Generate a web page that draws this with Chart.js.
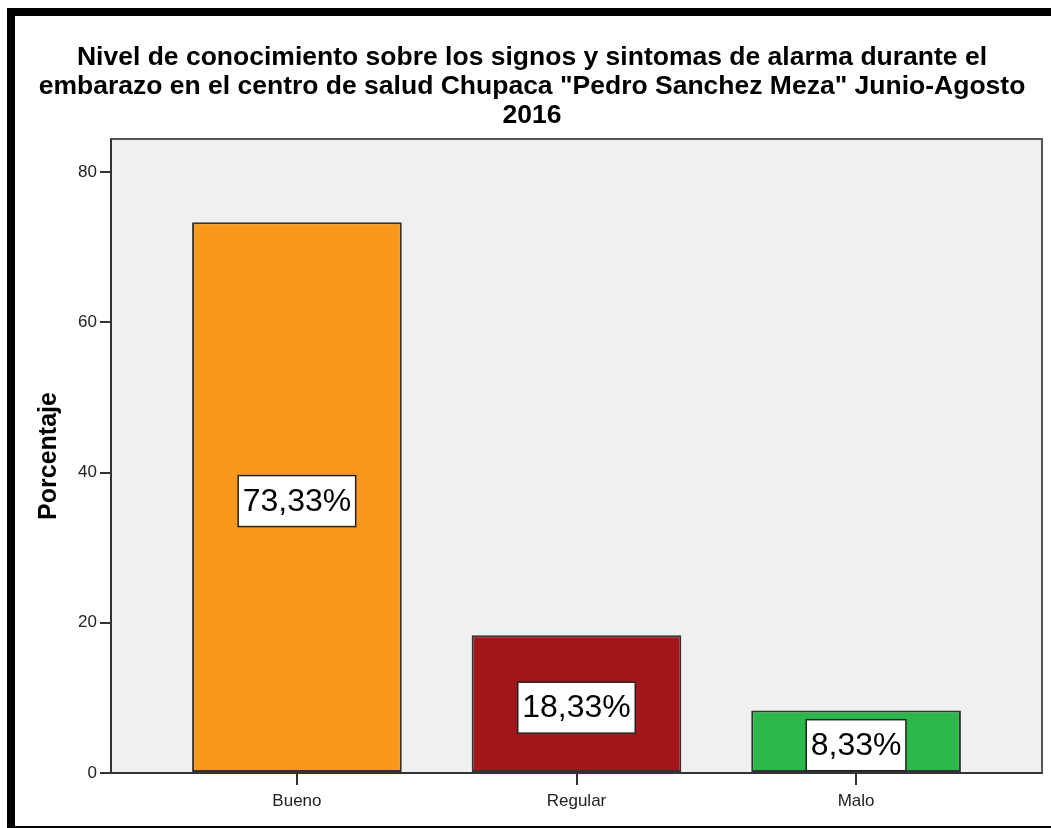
<!DOCTYPE html>
<html>
<head>
<meta charset="utf-8">
<script src="https://cdn.jsdelivr.net/npm/chart.js@4.4.1/dist/chart.umd.min.js"></script>
<style>
  html, body { margin: 0; padding: 0; background: #fff; overflow: hidden; }
  #wrap { position: relative; width: 1051px; height: 828px; }
  #chart { position: absolute; left: 0; top: 0; }
  #frame {
    position: absolute; left: 7px; top: 8px; width: 1100px; height: 826px;
    box-sizing: border-box; border-left: 8px solid #000; border-top: 8px solid #000;
    border-bottom: 8px solid #000; pointer-events: none;
  }
</style>
</head>
<body>
<div id="wrap">
  <canvas id="chart" width="1051" height="828"></canvas>
  <div id="frame"></div>
</div>
<script>
const titleLines = [
  "Nivel de conocimiento sobre los signos y sintomas de alarma durante el",
  "embarazo en el centro de salud Chupaca \"Pedro Sanchez Meza\" Junio-Agosto",
  "2016",
];
const categories = ["Bueno", "Regular", "Malo"];
const percentages = [73.33, 18.33, 8.33];
const barColors = ["#f8991e", "#a3161a", "#2db84b"];
const yTicks = [0, 20, 40, 60, 80];

const FONT = "'Liberation Sans', Arial, sans-serif";

function pct(v) {
  return v.toFixed(2).replace(".", ",") + "%";
}

// grey plot area plus the top/right edges of the frame
const plotBackground = {
  id: "plotBackground",
  beforeDraw(chart) {
    const { ctx, chartArea: a } = chart;
    ctx.save();
    ctx.fillStyle = "#f0f0f0";
    ctx.fillRect(a.left, a.top, a.right - a.left, a.bottom - a.top);
    ctx.restore();
  },
  beforeDatasetsDraw(chart) {
    const { ctx, chartArea: a } = chart;
    ctx.save();
    ctx.strokeStyle = "#555";
    ctx.lineWidth = 2;
    ctx.beginPath();
    ctx.moveTo(a.left, a.top);
    ctx.lineTo(a.right, a.top);
    ctx.lineTo(a.right, a.bottom);
    ctx.stroke();
    ctx.restore();
  },
};

// boxed value label in the middle of each bar
const boxLabels = {
  id: "boxLabels",
  afterDatasetsDraw(chart) {
    const { ctx } = chart;
    const meta = chart.getDatasetMeta(0);
    ctx.save();
    ctx.font = "32px " + FONT;
    ctx.textAlign = "center";
    ctx.textBaseline = "middle";
    meta.data.forEach((bar, i) => {
      const text = pct(percentages[i]);
      const w = ctx.measureText(text).width + 9;
      const h = 51;
      const cx = bar.x;
      const cy = (bar.y + bar.base) / 2 + 4;
      ctx.fillStyle = "#fff";
      ctx.fillRect(cx - w / 2, cy - h / 2, w, h);
      ctx.strokeStyle = "#222";
      ctx.lineWidth = 1.5;
      ctx.strokeRect(cx - w / 2, cy - h / 2, w, h);
      ctx.fillStyle = "#000";
      ctx.fillText(text, cx, cy + 1);
    });
    ctx.restore();
  },
};

new Chart(document.getElementById("chart"), {
  type: "bar",
  data: {
    datasets: [
      {
        data: percentages.map((v, i) => ({ x: i, y: v })),
        backgroundColor: barColors,
        borderColor: "#333",
        borderWidth: 2,
        borderSkipped: false,
        barPercentage: 0.75,
        categoryPercentage: 1,
      },
    ],
  },
  options: {
    responsive: false,
    devicePixelRatio: 1,
    animation: false,
    events: [],
    layout: { padding: { left: 22, right: 9, top: 0, bottom: 0 } },
    plugins: {
      legend: { display: false },
      tooltip: { enabled: false },
      title: {
        display: true,
        text: titleLines,
        color: "#000",
        font: { family: FONT, size: 26.5, weight: "bold", lineHeight: "29px" },
        padding: { top: 43, bottom: 9 },
      },
    },
    scales: {
      x: {
        type: "linear",
        min: -0.665,
        max: 2.665,
        offset: false,
        afterBuildTicks(scale) {
          scale.ticks = categories.map((_, i) => ({ value: i }));
        },
        afterFit(scale) {
          scale.height = 55;
        },
        ticks: {
          callback: (v) => categories[v] || "",
          color: "#222",
          font: { family: FONT, size: 17 },
          padding: 6,
          maxRotation: 0,
          autoSkip: false,
        },
        grid: { offset: false, drawOnChartArea: false, drawTicks: true, tickLength: 12, color: "#333", lineWidth: 2 },
        border: { display: true, color: "#333", width: 2 },
      },
      y: {
        min: 0,
        max: 84.4,
        afterBuildTicks(scale) {
          scale.ticks = yTicks.map((v) => ({ value: v }));
        },
        afterFit(scale) {
          scale.width = 89;
        },
        ticks: {
          color: "#222",
          font: { family: FONT, size: 17 },
          padding: 3,
        },
        grid: { drawOnChartArea: false, drawTicks: true, tickLength: 11, color: "#333", lineWidth: 2 },
        border: { display: true, color: "#333", width: 2 },
        title: {
          display: true,
          text: "Porcentaje",
          color: "#000",
          font: { family: FONT, size: 25, weight: "bold", lineHeight: 1.2 },
          padding: { top: 12, bottom: 0 },
        },
      },
    },
  },
  plugins: [plotBackground, boxLabels],
});
</script>
</body>
</html>
